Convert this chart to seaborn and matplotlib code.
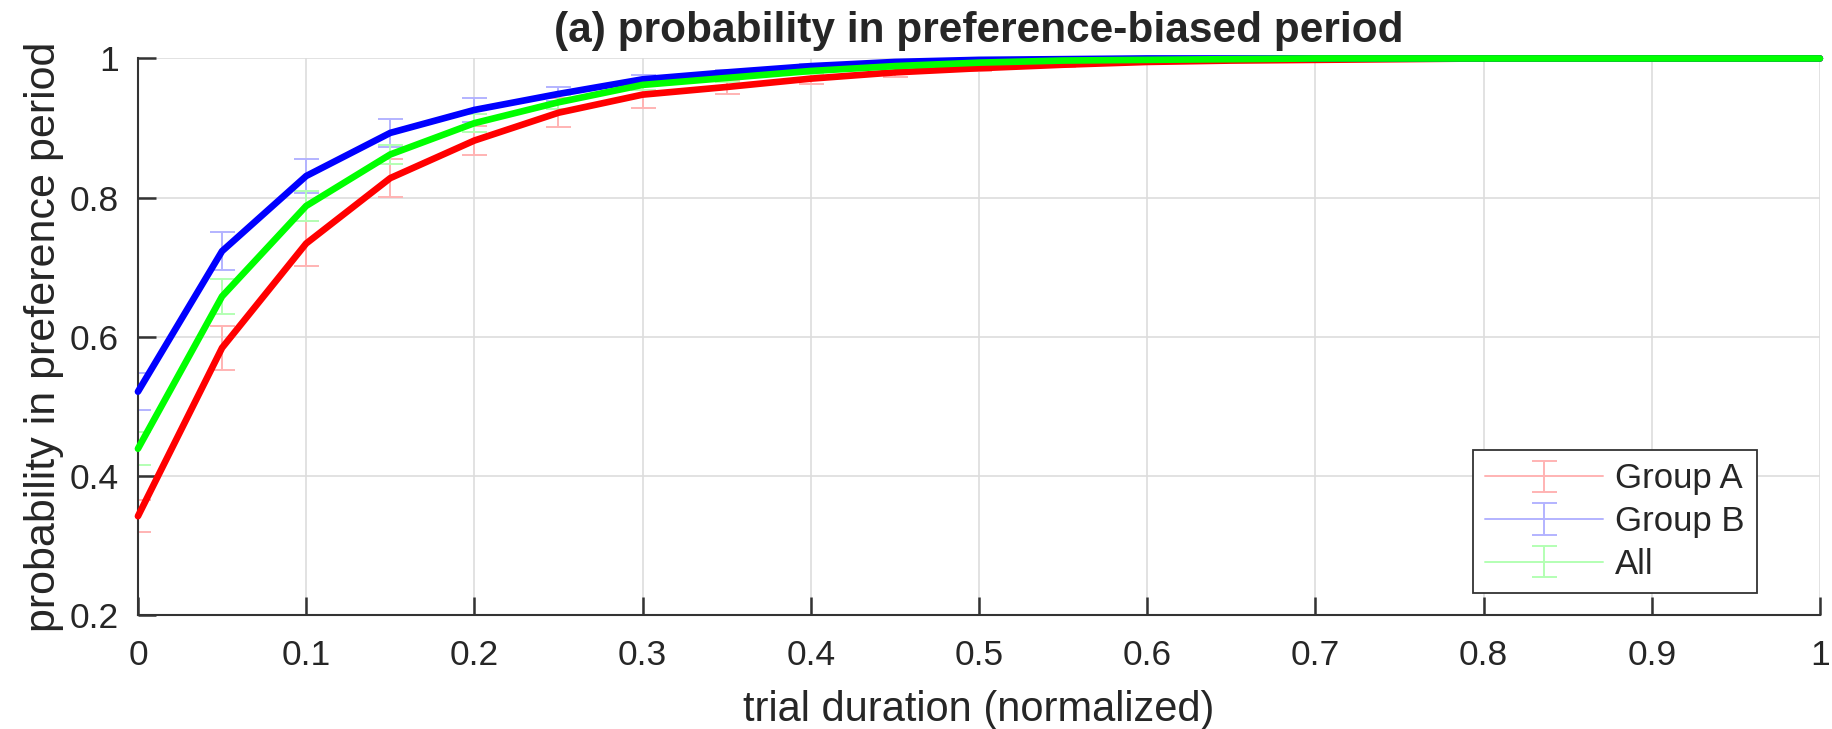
import numpy as np
import pandas as pd
import matplotlib
matplotlib.use('Agg')
import matplotlib.pyplot as plt
import seaborn as sns
from matplotlib.container import ErrorbarContainer
from matplotlib.legend_handler import HandlerErrorbar

# trial duration (normalized), 0..1 in steps of 0.05
x_vals = [0.00, 0.05, 0.10, 0.15, 0.20, 0.25, 0.30, 0.35, 0.40, 0.45, 0.50,
          0.55, 0.60, 0.65, 0.70, 0.75, 0.80, 0.85, 0.90, 0.95, 1.00]

group_a = [0.342, 0.584, 0.734, 0.828, 0.882, 0.922, 0.948, 0.959, 0.971, 0.980, 0.986,
           0.991, 0.995, 0.997, 0.998, 0.999, 1.000, 1.000, 1.000, 1.000, 1.000]
group_b = [0.521, 0.723, 0.831, 0.893, 0.926, 0.949, 0.970, 0.980, 0.989, 0.995, 0.998,
           0.999, 1.000, 1.000, 1.000, 1.000, 1.000, 1.000, 1.000, 1.000, 1.000]
group_all = [0.439, 0.658, 0.788, 0.862, 0.907, 0.937, 0.962, 0.972, 0.982, 0.989, 0.994,
             0.997, 0.998, 0.999, 1.000, 1.000, 1.000, 1.000, 1.000, 1.000, 1.000]

err_a = [0.023, 0.032, 0.032, 0.027, 0.021, 0.021, 0.019, 0.010, 0.007, 0.006, 0.004,
         0.003, 0.002, 0.001, 0.001, 0.000, 0.000, 0.000, 0.000, 0.000, 0.000]
err_b = [0.027, 0.027, 0.024, 0.020, 0.017, 0.010, 0.006, 0.004, 0.003, 0.002, 0.001,
         0.001, 0.000, 0.000, 0.000, 0.000, 0.000, 0.000, 0.000, 0.000, 0.000]
err_all = [0.024, 0.025, 0.021, 0.014, 0.013, 0.010, 0.008, 0.006, 0.004, 0.003, 0.002,
           0.001, 0.001, 0.000, 0.000, 0.000, 0.000, 0.000, 0.000, 0.000, 0.000]

groups = ['Group A', 'Group B', 'All']
line_colors = {'Group A': (1, 0, 0), 'Group B': (0, 0, 1), 'All': (0, 1, 0)}
err_colors = {'Group A': (1, 0.7, 0.7), 'Group B': (0.7, 0.7, 1), 'All': (0.7, 1, 0.7)}

df = pd.concat([pd.DataFrame({'x': x_vals, 'p': v, 'err': e, 'group': g})
                for g, v, e in zip(groups, [group_a, group_b, group_all], [err_a, err_b, err_all])])

sns.set_style('white')
plt.rcParams['font.family'] = ['Liberation Sans', 'DejaVu Sans']

fig = plt.figure(figsize=(18.32, 7.29), dpi=100)
ax = fig.add_axes([0.0753, 0.1564, 0.9181, 0.7634])

handles = []
for g in groups:
    d = df[df.group == g]
    h = ax.errorbar(d.x, d.p, yerr=d.err, color=err_colors[g], lw=1.4, capsize=9,
                    capthick=1.4, zorder=2, label=g)
    handles.append(h)

sns.lineplot(data=df, x='x', y='p', hue='group', palette=line_colors, lw=4.8,
             legend=False, ax=ax, zorder=3)
for ln in ax.lines:
    if ln.get_linewidth() >= 4:
        ln.set_clip_on(False)

ax.set_xlim(0, 1)
ax.set_ylim(0.2, 1)
ax.set_xticks(np.arange(0, 1.01, 0.1))
ax.set_xticklabels(['0', '0.1', '0.2', '0.3', '0.4', '0.5', '0.6', '0.7', '0.8', '0.9', '1'])
ax.set_yticks(np.arange(0.2, 1.01, 0.2))
ax.set_yticklabels(['0.2', '0.4', '0.6', '0.8', '1'])
ax.grid(True, color='#dddddd', lw=1.2)
ax.tick_params(bottom=True, left=True, direction='in', length=13, width=1.8,
               color='#333333', labelsize=25.5, labelcolor='#262626')
ax.tick_params(axis='x', pad=17)
ax.tick_params(axis='y', pad=14)
for s in ['top', 'right']:
    ax.spines[s].set_visible(False)
for s in ['left', 'bottom']:
    ax.spines[s].set_color('#333333')
    ax.spines[s].set_linewidth(1.5)

ax.set_xlabel('trial duration (normalized)', fontsize=30, color='#262626', labelpad=13)
ax.set_ylabel('probability in preference period', fontsize=31, color='#262626', labelpad=4)
ax.set_title('(a) probability in preference-biased period', fontsize=30.5,
             fontweight='bold', pad=12)

leg = ax.legend(handles=handles, labels=groups, loc='lower right', fontsize=25,
                frameon=True, fancybox=False, edgecolor='#333333', framealpha=1,
                handlelength=3.4, handletextpad=0.35, borderpad=0.35,
                labelspacing=0.28, borderaxespad=0,
                bbox_to_anchor=(0.9625, 0.0395),
                handler_map={ErrorbarContainer: HandlerErrorbar(yerr_size=0.45)})
leg.get_frame().set_linewidth(1.3)

fig.savefig('out.png', dpi=100)
